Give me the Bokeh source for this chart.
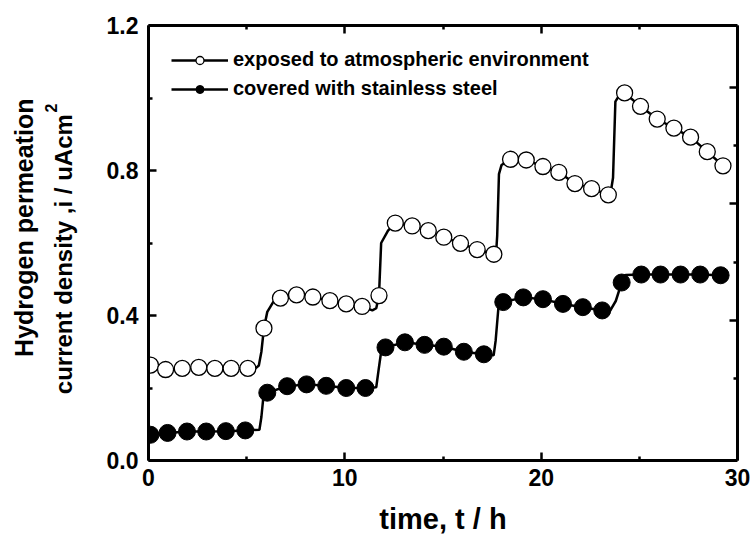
from bokeh.plotting import figure
from bokeh.layouts import row
from bokeh.models import (LinearAxis, FixedTicker, Range1d, Label,
                          Legend, LegendItem, PrintfTickFormatter, CustomJSTickFormatter)
from bokeh.embed import file_html
from bokeh.resources import INLINE

# ---------------- data ----------------
# exposed to atmospheric environment: markers
t_open = [0.1, 0.87, 1.72, 2.56, 3.38, 4.21, 5.06, 5.88, 6.72, 7.54, 8.37, 9.24, 10.07, 10.88,
          11.74, 12.57, 13.43, 14.25, 15.04, 15.89, 16.74, 17.59, 18.44, 19.24, 20.09, 20.9,
          21.72, 22.57, 23.42, 24.25, 25.06, 25.91, 26.76, 27.61, 28.46, 29.26]
i_open = [0.263, 0.251, 0.254, 0.257, 0.254, 0.254, 0.254, 0.365, 0.448, 0.457, 0.451, 0.441,
          0.432, 0.425, 0.455, 0.655, 0.647, 0.634, 0.616, 0.599, 0.582, 0.569, 0.831, 0.829,
          0.811, 0.795, 0.764, 0.750, 0.733, 1.014, 0.977, 0.942, 0.917, 0.892, 0.852, 0.813]
# exposed: continuous recorded curve (knots)
t_open_curve = [0.1, 0.87, 1.72, 2.56, 3.38, 4.21, 5.06, 5.45, 5.62, 5.75, 5.88, 6.05, 6.35, 6.72,
                7.54, 8.37, 9.24, 10.07, 10.88, 11.4, 11.6, 11.74, 11.85, 12.2, 12.57, 13.43,
                14.25, 15.04, 15.89, 16.74, 17.59, 17.7, 17.76, 17.85, 17.98, 18.44, 19.24, 20.09,
                20.9, 21.72, 22.57, 23.42, 23.55, 23.66, 23.78, 23.95, 24.25, 25.06, 25.91, 26.76,
                27.61, 28.46, 29.26]
i_open_curve = [0.263, 0.251, 0.254, 0.257, 0.254, 0.254, 0.254, 0.254, 0.262, 0.30, 0.365, 0.41,
                0.437, 0.448, 0.457, 0.451, 0.441, 0.432, 0.425, 0.414, 0.42, 0.455, 0.60, 0.634,
                0.655, 0.647, 0.634, 0.616, 0.599, 0.582, 0.569, 0.567, 0.62, 0.79, 0.815, 0.831,
                0.829, 0.811, 0.795, 0.764, 0.750, 0.733, 0.742, 0.78, 0.99, 1.005, 1.014, 0.977,
                0.942, 0.917, 0.892, 0.852, 0.813]

# covered with stainless steel: markers
t_cov = [0.1, 0.97, 1.96, 2.94, 3.94, 4.93, 6.05, 7.06, 8.05, 9.05, 10.07, 11.05, 12.07, 13.06,
         14.06, 15.04, 16.06, 17.08, 18.07, 19.09, 20.09, 21.11, 22.12, 23.11, 24.1, 25.1, 26.08,
         27.1, 28.1, 29.14]
i_cov = [0.071, 0.076, 0.080, 0.080, 0.081, 0.083, 0.187, 0.205, 0.210, 0.206, 0.200, 0.200,
         0.312, 0.326, 0.319, 0.314, 0.300, 0.293, 0.437, 0.450, 0.445, 0.432, 0.423, 0.414,
         0.491, 0.513, 0.513, 0.513, 0.513, 0.511]
# covered: continuous recorded curve (knots)
t_cov_curve = [0.1, 0.97, 1.96, 2.94, 3.94, 4.93, 5.65, 5.75, 5.85, 6.05, 7.06, 8.05, 9.05, 10.07,
               11.05, 11.6, 11.72, 11.85, 12.07, 13.06, 14.06, 15.04, 16.06, 17.08, 17.58, 17.68,
               17.82, 18.07, 19.09, 20.09, 21.11, 22.12, 23.11, 23.5, 23.8, 24.1, 24.3, 25.1,
               26.08, 27.1, 28.1, 29.14]
i_cov_curve = [0.071, 0.076, 0.080, 0.080, 0.081, 0.083, 0.085, 0.12, 0.175, 0.187, 0.205, 0.210,
               0.206, 0.200, 0.200, 0.202, 0.25, 0.30, 0.312, 0.326, 0.319, 0.314, 0.300, 0.293,
               0.29, 0.33, 0.42, 0.437, 0.450, 0.445, 0.432, 0.423, 0.414, 0.412, 0.44, 0.491,
               0.512, 0.513, 0.513, 0.513, 0.513, 0.511]

series_names = ["exposed to atmospheric environment", "covered with stainless steel"]
x_title = "time, t / h"
y_title_1 = "Hydrogen permeation"
y_title_2 = "current density ,i / uAcm"
y_title_sup = "2"

x_ticks = [0, 10, 20, 30]
x_minor = [5, 15, 25]
y_ticks = [0.0, 0.4, 0.8, 1.2]
y_minor = [0.2, 0.6, 1.0]
# right-hand (unlabelled) axis tick positions, in units of the left axis
right_major = [1.029, 0.709, 0.386]
right_minor = [0.869, 0.546, 0.226]

FONT = "Liberation Sans"
TITLE_W = 90

# ---------------- narrow panel holding the two-line y title ----------------
t = figure(width=TITLE_W, height=540, output_backend="svg", toolbar_location=None,
           x_range=Range1d(0, TITLE_W), y_range=Range1d(0, 540),
           x_axis_type=None, y_axis_type=None, min_border=0)
t.outline_line_color = None
t.background_fill_color = "white"
t.border_fill_color = "white"
t.add_layout(Label(x=23, y=540 - 251, text=y_title_1, angle=90, angle_units="deg",
                   text_font=FONT, text_font_style="bold", text_font_size="25px",
                   text_align="center", text_baseline="alphabetic", text_color="black"))
t.add_layout(Label(x=63, y=540 - 110, text=y_title_2, angle=90, angle_units="deg",
                   text_font=FONT, text_font_style="bold", text_font_size="24px",
                   text_align="right", text_baseline="alphabetic", text_color="black"))
t.add_layout(Label(x=50, y=540 - 108, text=y_title_sup, angle=90, angle_units="deg",
                   text_font=FONT, text_font_style="bold", text_font_size="16px",
                   text_align="left", text_baseline="alphabetic", text_color="black"))

# ---------------- main plot ----------------
p = figure(width=753 - TITLE_W, height=540, output_backend="svg", toolbar_location=None,
           x_range=Range1d(0, 30), y_range=Range1d(0, 1.2),
           x_axis_type=None, y_axis_type=None,
           min_border_left=148 - TITLE_W, min_border_right=16, min_border_top=25,
           min_border_bottom=80)
p.outline_line_color = None
p.background_fill_color = "white"
p.border_fill_color = "white"


def style(ax, labels=True):
    ax.axis_line_width = 3
    ax.axis_line_color = "black"
    ax.major_tick_line_width = 2.5
    ax.minor_tick_line_width = 2.5
    ax.major_tick_line_color = "black"
    ax.minor_tick_line_color = "black"
    ax.major_tick_in = 8
    ax.major_tick_out = 0
    ax.minor_tick_in = 4
    ax.minor_tick_out = 0
    ax.major_label_text_font = FONT
    ax.major_label_text_font_style = "bold"
    ax.major_label_text_font_size = "23px"
    ax.major_label_text_color = "black"
    ax.axis_label_text_font = FONT
    ax.axis_label_text_font_style = "bold"
    ax.axis_label_text_color = "black"
    if not labels:
        ax.formatter = CustomJSTickFormatter(code="return ''")
        ax.major_label_standoff = 0


xb = LinearAxis(ticker=FixedTicker(ticks=x_ticks, minor_ticks=x_minor))
style(xb)
xb.major_label_standoff = 8
xb.axis_label = x_title
xb.axis_label_text_font_size = "29px"
xb.axis_label_standoff = 14
p.add_layout(xb, "below")

xt = LinearAxis(ticker=FixedTicker(ticks=x_ticks, minor_ticks=x_minor))
style(xt, labels=False)
p.add_layout(xt, "above")

yl = LinearAxis(ticker=FixedTicker(ticks=y_ticks, minor_ticks=y_minor),
                formatter=PrintfTickFormatter(format="%.1f"))
style(yl)
yl.major_label_standoff = 10
p.add_layout(yl, "left")

yr = LinearAxis(ticker=FixedTicker(ticks=right_major, minor_ticks=right_minor))
style(yr, labels=False)
p.add_layout(yr, "right")

# curves
l_open = p.line(t_open_curve, i_open_curve, line_color="black", line_width=2.5)
l_cov = p.line(t_cov_curve, i_cov_curve, line_color="black", line_width=2.5)
s_open = p.scatter(t_open, i_open, marker="circle", size=16, fill_color="white",
                   line_color="black", line_width=1.3)
s_cov = p.scatter(t_cov, i_cov, marker="circle", size=17, fill_color="black",
                  line_color="black", line_width=1)

legend = Legend(items=[LegendItem(label=series_names[0], renderers=[l_open, s_open]),
                       LegendItem(label=series_names[1], renderers=[l_cov, s_cov])],
                location="top_left", margin=23, padding=0, spacing=6,
                glyph_width=57, glyph_height=20, label_height=20, label_standoff=5,
                border_line_color=None, background_fill_alpha=0,
                label_text_font=FONT, label_text_font_style="bold",
                label_text_font_size="20px", label_text_color="black")
p.add_layout(legend)

layout = row(t, p, spacing=0)
open("out.html", "w").write(file_html(layout, INLINE))
